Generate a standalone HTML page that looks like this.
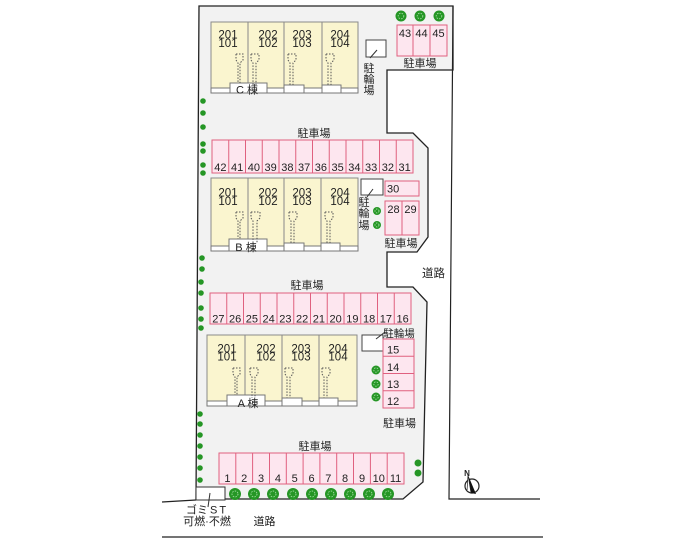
<!DOCTYPE html>
<html><head><meta charset="utf-8">
<style>
html,body{margin:0;padding:0;background:#fff;}
svg{display:block;}
text{font-family:"Liberation Sans","Noto Sans CJK JP",sans-serif;fill:#222;}
.n{font-size:11px;text-anchor:middle;}
.u{font-size:11.5px;text-anchor:middle;}
.j{font-size:11px;text-anchor:middle;}
.pk{fill:#fde6ef;stroke:#e0607f;stroke-width:1;}
.bl{fill:#faf5cf;stroke:#8a8a8a;stroke-width:1;}
.st{fill:#fff;stroke:#777;stroke-width:1;}
.dv{stroke:#888;stroke-width:1;}
.pd{stroke:#e0607f;stroke-width:1;}
.dot{fill:none;stroke:#555;stroke-width:1;stroke-dasharray:1.5 1.5;}
.tr{fill:#259625;}
.tl{fill:none;stroke:#9fdc9f;stroke-width:0.9;stroke-dasharray:1.5 1.2;}
.ln{stroke:#222;stroke-width:1.2;fill:none;}
</style></head>
<body>
<svg width="700" height="544" viewBox="0 0 700 544" xmlns="http://www.w3.org/2000/svg">
<rect x="0" y="0" width="700" height="544" fill="#fff"/>

<!-- lot -->
<polygon points="199,6 453,6 453,70 387,70 387,133 413,133 428,148 428,237 417,252 387,252 387,287 413,287 427,302 423,482 403,499 196,499" fill="#f2f2f2" stroke="#222" stroke-width="1.3"/>
<!-- roads -->
<polyline class="ln" points="453,6 449,499 540,499"/>
<line class="ln" x1="162" y1="502" x2="196" y2="500"/>
<line class="ln" x1="162" y1="537" x2="543" y2="537"/>

<!-- ===== C building ===== -->
<rect class="bl" x="211" y="22" width="147" height="71"/>
<line class="dv" x1="248" y1="22" x2="248" y2="88"/>
<line class="dv" x1="284" y1="22" x2="284" y2="88"/>
<line class="dv" x1="322" y1="22" x2="322" y2="88"/>
<rect class="st" x="211" y="88" width="19" height="5"/>
<rect class="st" x="230" y="83" width="37" height="10"/>
<rect class="st" x="267" y="88" width="17" height="5"/>
<rect class="st" x="284" y="85" width="20" height="8"/>
<rect class="st" x="304" y="88" width="18" height="5"/>
<rect class="st" x="322" y="85" width="19" height="8"/>
<rect class="st" x="341" y="88" width="17" height="5"/>
<text class="u" x="228" y="38.5">201</text><text class="u" x="228" y="47">101</text>
<text class="u" x="268" y="38.5">202</text><text class="u" x="268" y="47">102</text>
<text class="u" x="302" y="38.5">203</text><text class="u" x="302" y="47">103</text>
<text class="u" x="340" y="38.5">204</text><text class="u" x="340" y="47">104</text>
<text x="247" y="93.5" style="font-size:11px;text-anchor:middle">C 棟</text>
<path class="dot" d="M236,54 h7 v6 l-3,3 V83 M236,54 v6 l2,3 V83"/>
<path class="dot" d="M251,54 h8 v6 l-3,3 V85 M251,54 v6 l2,3 V85"/>
<path class="dot" d="M288,54 h8 v6 l-3,3 V85 M288,54 v6 l2,3 V85"/>
<path class="dot" d="M326,54 h8 v6 l-3,3 V85 M326,54 v6 l2,3 V85"/>

<!-- C bike -->
<rect x="366" y="40" width="20" height="17" fill="#fff" stroke="#444"/>
<line x1="377" y1="50" x2="370" y2="58" stroke="#333"/>
<text class="j" x="369" y="72">駐</text>
<text class="j" x="369" y="83">輪</text>
<text class="j" x="369" y="94">場</text>

<!-- 43-45 -->
<rect class="pk" x="397" y="25" width="50" height="31"/>
<line class="pd" x1="413" y1="25" x2="413" y2="56"/>
<line class="pd" x1="430" y1="25" x2="430" y2="56"/>
<text class="n" x="405" y="37">43</text>
<text class="n" x="421.5" y="37">44</text>
<text class="n" x="438.5" y="37">45</text>
<text class="j" x="420" y="67">駐車場</text>

<!-- row 42..31 -->
<text class="j" x="314" y="137">駐車場</text>
<rect class="pk" x="212" y="140" width="201" height="33"/>
<path class="pd" d="M228.75,140V173M245.5,140V173M262.25,140V173M279,140V173M295.75,140V173M312.5,140V173M329.25,140V173M346,140V173M362.75,140V173M379.5,140V173M396.25,140V173"/>
<text class="n" x="220.4" y="171">42</text><text class="n" x="237.1" y="171">41</text>
<text class="n" x="253.9" y="171">40</text><text class="n" x="270.6" y="171">39</text>
<text class="n" x="287.4" y="171">38</text><text class="n" x="304.1" y="171">37</text>
<text class="n" x="320.9" y="171">36</text><text class="n" x="337.6" y="171">35</text>
<text class="n" x="354.4" y="171">34</text><text class="n" x="371.1" y="171">33</text>
<text class="n" x="387.9" y="171">32</text><text class="n" x="404.6" y="171">31</text>

<!-- ===== B building ===== -->
<rect class="bl" x="211" y="178" width="147" height="73"/>
<line class="dv" x1="248" y1="178" x2="248" y2="246"/>
<line class="dv" x1="284" y1="178" x2="284" y2="246"/>
<line class="dv" x1="321" y1="178" x2="321" y2="246"/>
<rect class="st" x="211" y="246" width="18" height="5"/>
<rect class="st" x="229" y="239" width="38" height="12"/>
<rect class="st" x="267" y="246" width="17" height="5"/>
<rect class="st" x="284" y="243" width="20" height="8"/>
<rect class="st" x="304" y="246" width="17" height="5"/>
<rect class="st" x="321" y="243" width="19" height="8"/>
<rect class="st" x="340" y="246" width="18" height="5"/>
<text class="u" x="228" y="196.5">201</text><text class="u" x="228" y="205">101</text>
<text class="u" x="268" y="196.5">202</text><text class="u" x="268" y="205">102</text>
<text class="u" x="302" y="196.5">203</text><text class="u" x="302" y="205">103</text>
<text class="u" x="340" y="196.5">204</text><text class="u" x="340" y="205">104</text>
<text x="246" y="251" style="font-size:11px;text-anchor:middle">B 棟</text>
<path class="dot" d="M236,212 h7 v6 l-3,3 V239 M236,212 v6 l2,3 V239"/>
<path class="dot" d="M251,212 h9 v6 l-3,3 V243 M251,212 v6 l2,3 V243"/>
<path class="dot" d="M289,212 h8 v6 l-3,3 V243 M289,212 v6 l2,3 V243"/>
<path class="dot" d="M325,212 h8 v6 l-3,3 V243 M325,212 v6 l2,3 V243"/>

<!-- B bike -->
<rect x="361" y="179" width="22" height="16" fill="#fff" stroke="#444"/>
<line x1="373" y1="189" x2="367" y2="197" stroke="#333"/>
<text class="j" x="364" y="206">駐</text>
<text class="j" x="364" y="217">輪</text>
<text class="j" x="364" y="229">場</text>

<!-- 30, 28, 29 -->
<rect class="pk" x="385" y="181" width="34" height="15"/>
<text x="387" y="192.5" style="font-size:11px">30</text>
<rect class="pk" x="385" y="201" width="34" height="34"/>
<line class="pd" x1="402" y1="201" x2="402" y2="235"/>
<text class="n" x="393.5" y="213">28</text>
<text class="n" x="410.5" y="213">29</text>
<text class="j" x="401" y="247">駐車場</text>
<text x="433.5" y="277" style="font-size:11.5px;text-anchor:middle">道路</text>

<!-- row 27..16 -->
<text class="j" x="307" y="289">駐車場</text>
<rect class="pk" x="210" y="293" width="201" height="31"/>
<path class="pd" d="M226.75,293V324M243.5,293V324M260.25,293V324M277,293V324M293.75,293V324M310.5,293V324M327.25,293V324M344,293V324M360.75,293V324M377.5,293V324M394.25,293V324"/>
<text class="n" x="218.4" y="322.5">27</text><text class="n" x="235.1" y="322.5">26</text>
<text class="n" x="251.9" y="322.5">25</text><text class="n" x="268.6" y="322.5">24</text>
<text class="n" x="285.4" y="322.5">23</text><text class="n" x="302.1" y="322.5">22</text>
<text class="n" x="318.9" y="322.5">21</text><text class="n" x="335.6" y="322.5">20</text>
<text class="n" x="352.4" y="322.5">19</text><text class="n" x="369.1" y="322.5">18</text>
<text class="n" x="385.9" y="322.5">17</text><text class="n" x="402.6" y="322.5">16</text>

<!-- ===== A building ===== -->
<rect class="bl" x="207" y="335" width="150" height="71"/>
<line class="dv" x1="245" y1="335" x2="245" y2="401"/>
<line class="dv" x1="282" y1="335" x2="282" y2="401"/>
<line class="dv" x1="319" y1="335" x2="319" y2="401"/>
<rect class="st" x="207" y="401" width="20" height="5"/>
<rect class="st" x="227" y="395" width="38" height="11"/>
<rect class="st" x="265" y="401" width="17" height="5"/>
<rect class="st" x="282" y="398" width="20" height="8"/>
<rect class="st" x="302" y="401" width="17" height="5"/>
<rect class="st" x="319" y="398" width="19" height="8"/>
<rect class="st" x="338" y="401" width="19" height="5"/>
<text class="u" x="227" y="352.5">201</text><text class="u" x="227" y="360.5">101</text>
<text class="u" x="266" y="352.5">202</text><text class="u" x="266" y="360.5">102</text>
<text class="u" x="301" y="352.5">203</text><text class="u" x="301" y="360.5">103</text>
<text class="u" x="338" y="352.5">204</text><text class="u" x="338" y="360.5">104</text>
<text x="248" y="407" style="font-size:11px;text-anchor:middle">A 棟</text>
<path class="dot" d="M233,368 h7 v6 l-3,3 V395 M233,368 v6 l2,3 V395"/>
<path class="dot" d="M250,368 h8 v6 l-3,3 V398 M250,368 v6 l2,3 V398"/>
<path class="dot" d="M285,368 h8 v6 l-3,3 V398 M285,368 v6 l2,3 V398"/>
<path class="dot" d="M322,368 h8 v6 l-3,3 V398 M322,368 v6 l2,3 V398"/>

<!-- A bike -->
<rect x="362" y="335" width="21" height="16" fill="#fff" stroke="#444"/>
<line x1="376" y1="339" x2="385" y2="332" stroke="#333"/>
<text x="399" y="337" style="font-size:10.5px;text-anchor:middle">駐輪場</text>

<!-- 15..12 -->
<rect class="pk" x="383" y="339" width="31" height="69"/>
<path class="pd" d="M383,356.3H414M383,373.5H414M383,390.8H414"/>
<text x="387" y="353.5" style="font-size:11px">15</text>
<text x="387" y="371" style="font-size:11px">14</text>
<text x="387" y="388" style="font-size:11px">13</text>
<text x="387" y="405" style="font-size:11px">12</text>
<text class="j" x="399.5" y="427">駐車場</text>

<!-- row 1..11 -->
<text class="j" x="315" y="450">駐車場</text>
<rect class="pk" x="219" y="453" width="185" height="31"/>
<path class="pd" d="M235.8,453V484M252.6,453V484M269.5,453V484M286.3,453V484M303.1,453V484M319.9,453V484M336.7,453V484M353.5,453V484M370.4,453V484M387.2,453V484"/>
<text class="n" x="227.4" y="482">1</text><text class="n" x="244.2" y="482">2</text>
<text class="n" x="261" y="482">3</text><text class="n" x="277.9" y="482">4</text>
<text class="n" x="294.7" y="482">5</text><text class="n" x="311.5" y="482">6</text>
<text class="n" x="328.3" y="482">7</text><text class="n" x="345.1" y="482">8</text>
<text class="n" x="362" y="482">9</text><text class="n" x="378.8" y="482">10</text>
<text class="n" x="395.6" y="482">11</text>

<!-- GOMI -->
<rect x="196" y="487" width="29" height="13" fill="#fff" stroke="#333"/>
<line x1="210" y1="493" x2="208" y2="507" stroke="#333"/>
<text x="186" y="513.5" style="font-size:11px">ゴミ</text>
<text x="210" y="513.5" style="font-size:11px;letter-spacing:2px">ST</text>
<text x="207" y="525" style="font-size:11px;text-anchor:middle">可燃·不燃</text>
<text x="264.5" y="525" style="font-size:11px;text-anchor:middle">道路</text>

<!-- compass -->
<circle cx="472" cy="486" r="7" fill="#fff" stroke="#222" stroke-width="1.2"/>
<polygon points="468,475 476,494 471,493" fill="#111"/>
<polygon points="468,475 471,493 467,491" fill="#fff" stroke="#222" stroke-width="0.7"/>
<text x="467" y="476" style="font-size:8px;font-weight:bold;text-anchor:middle">N</text>

<!-- trees: top -->
<g>
<circle class="tr" cx="401" cy="16" r="5.5"/><circle class="tl" cx="401" cy="16" r="2.8"/>
<circle class="tr" cx="420" cy="16" r="5.5"/><circle class="tl" cx="420" cy="16" r="2.8"/>
<circle class="tr" cx="439" cy="16" r="5.5"/><circle class="tl" cx="439" cy="16" r="2.8"/>
<!-- B right -->
<circle class="tr" cx="377" cy="211" r="4"/><circle class="tl" cx="377" cy="211" r="2"/>
<circle class="tr" cx="377" cy="225" r="4"/><circle class="tl" cx="377" cy="225" r="2"/>
<!-- A right -->
<circle class="tr" cx="376" cy="370" r="4.5"/><circle class="tl" cx="376" cy="370" r="2.2"/>
<circle class="tr" cx="376" cy="384" r="4.5"/><circle class="tl" cx="376" cy="384" r="2.2"/>
<circle class="tr" cx="376" cy="397" r="4.5"/><circle class="tl" cx="376" cy="397" r="2.2"/>
<!-- bottom row -->
<circle class="tr" cx="235" cy="494" r="6"/><circle class="tl" cx="235" cy="494" r="3"/>
<circle class="tr" cx="254" cy="494" r="6"/><circle class="tl" cx="254" cy="494" r="3"/>
<circle class="tr" cx="273" cy="494" r="6"/><circle class="tl" cx="273" cy="494" r="3"/>
<circle class="tr" cx="293" cy="494" r="6"/><circle class="tl" cx="293" cy="494" r="3"/>
<circle class="tr" cx="312" cy="494" r="6"/><circle class="tl" cx="312" cy="494" r="3"/>
<circle class="tr" cx="331" cy="494" r="6"/><circle class="tl" cx="331" cy="494" r="3"/>
<circle class="tr" cx="350" cy="494" r="6"/><circle class="tl" cx="350" cy="494" r="3"/>
<circle class="tr" cx="369" cy="494" r="6"/><circle class="tl" cx="369" cy="494" r="3"/>
<circle class="tr" cx="388" cy="494" r="6"/><circle class="tl" cx="388" cy="494" r="3"/>
<!-- right near 10/11 -->
<circle class="tr" cx="418" cy="463" r="3.5"/>
<circle class="tr" cx="418" cy="473" r="3.5"/>
<!-- left column -->
<circle class="tr" cx="203" cy="101" r="2.8"/>
<circle class="tr" cx="203" cy="113" r="2.8"/>
<circle class="tr" cx="203" cy="127" r="2.8"/>
<circle class="tr" cx="203" cy="144" r="2.8"/>
<circle class="tr" cx="203" cy="151" r="2.8"/>
<circle class="tr" cx="203" cy="165" r="2.8"/>
<circle class="tr" cx="203" cy="173" r="2.8"/>
<circle class="tr" cx="202" cy="258" r="2.8"/>
<circle class="tr" cx="202" cy="269" r="2.8"/>
<circle class="tr" cx="201" cy="282" r="2.8"/>
<circle class="tr" cx="201" cy="293" r="2.8"/>
<circle class="tr" cx="201" cy="308" r="2.8"/>
<circle class="tr" cx="201" cy="319" r="2.8"/>
<circle class="tr" cx="201" cy="328" r="2.8"/>
<circle class="tr" cx="200" cy="414" r="2.8"/>
<circle class="tr" cx="200" cy="424" r="2.8"/>
<circle class="tr" cx="200" cy="435" r="2.8"/>
<circle class="tr" cx="200" cy="446" r="2.8"/>
<circle class="tr" cx="200" cy="457" r="2.8"/>
<circle class="tr" cx="200" cy="468" r="2.8"/>
<circle class="tr" cx="200" cy="480" r="2.8"/>
</g>
</svg>
</body></html>
